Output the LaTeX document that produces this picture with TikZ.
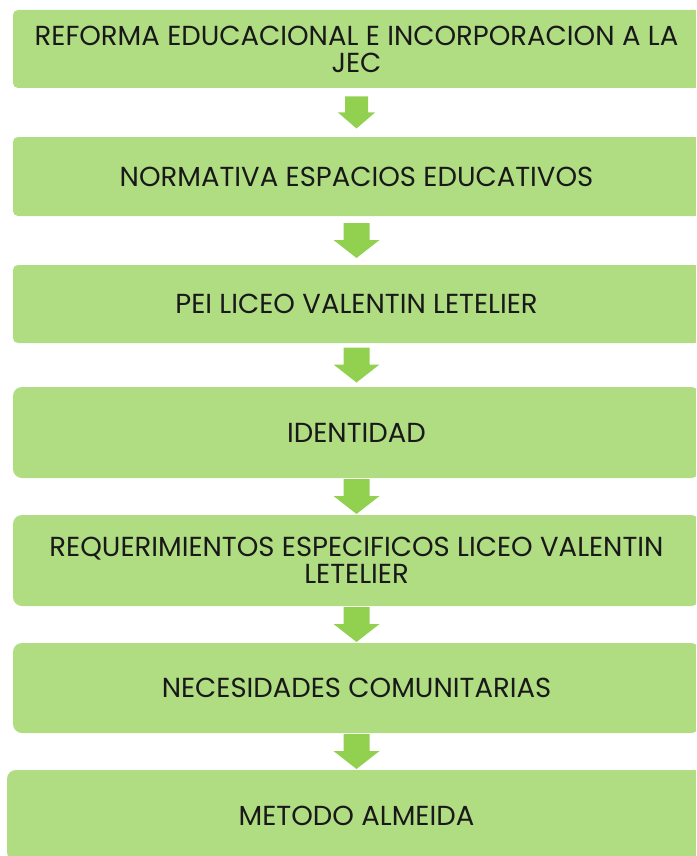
\documentclass[tikz,border=0pt]{standalone}
\usepackage{fontspec}
\setmainfont{Poppins}
\usetikzlibrary{calc}

\definecolor{boxgreen}{RGB}{176,220,130}
\definecolor{arrowgreen}{RGB}{146,208,80}

\begin{document}
\begin{tikzpicture}[x=1pt, y=-1pt, font=\fontsize{27.5}{27}\selectfont,
		stepbox/.style={fill=boxgreen, rounded corners=5pt, minimum width=687pt, inner sep=0pt, align=center, text=black!90},
		roundbox/.style={stepbox, rounded corners=9pt},
		downarrow/.style={fill=arrowgreen}]
		\useasboundingbox (0,0) rectangle (696,856);
		\clip (0,0) rectangle (696,856);
		% steps
		\node[stepbox, minimum height=78pt] (reforma) at (356.5,49) {REFORMA EDUCACIONAL E INCORPORACION A LA\\JEC};
		\node[stepbox, minimum height=79pt] (normativa) at (356.5,176.5) {NORMATIVA ESPACIOS EDUCATIVOS};
		\node[stepbox, minimum height=78pt] (pei) at (356.5,304) {PEI LICEO VALENTIN LETELIER};
		\node[roundbox, minimum height=91pt] (identidad) at (356.5,432.5) {IDENTIDAD};
		\node[roundbox, minimum height=91pt] (requer) at (356.5,560.5) {REQUERIMIENTOS ESPECIFICOS LICEO VALENTIN\\LETELIER};
		\node[roundbox, minimum height=90pt] (necesid) at (356.5,688) {NECESIDADES COMUNITARIAS};
		\node[roundbox, minimum height=91pt, minimum width=699pt] (metodo) at (356.5,815.5) {METODO ALMEIDA};
		% first arrow is a bit smaller
		\coordinate (m1) at ($(reforma.south)!0.5!(normativa.north)$);
		\fill[downarrow] ($(m1)+(-11.5,-16)$) -- ++(23,0) -- ++(0,16) -- ++(7,0) -- ($(m1)+(0,16)$)
			-- ($(m1)+(-18.5,0)$) -- ++(7,0) -- cycle;
		% block arrows between the other steps
		\foreach \up/\lo in {normativa/pei, pei/identidad, identidad/requer, requer/necesid, necesid/metodo} {
			\coordinate (m) at ($(\up.south)!0.5!(\lo.north)$);
			\fill[downarrow] ($(m)+(-13,-17.5)$) -- ++(26,0) -- ++(0,17) -- ++(10,0) -- ($(m)+(0,17.5)$)
				-- ($(m)+(-23,-0.5)$) -- ++(10,0) -- cycle;
		}
	\end{tikzpicture}
\end{document}
